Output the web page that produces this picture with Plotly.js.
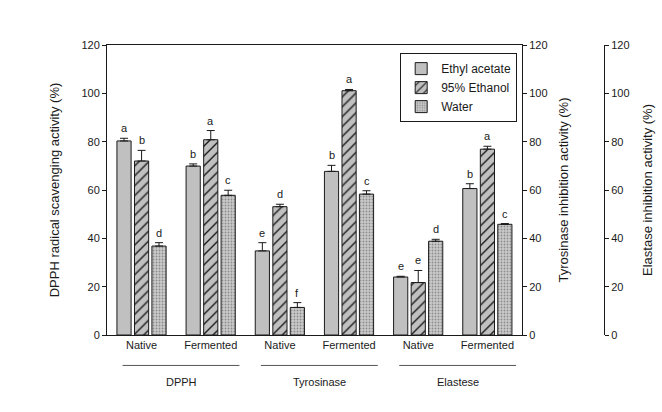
<!DOCTYPE html>
<html>
<head>
<meta charset="utf-8">
<script src="https://cdn.plot.ly/plotly-3.0.1.min.js"></script>
<style>
  html, body { margin: 0; padding: 0; background: #fff; }
  #chart { width: 662px; height: 412px; }
</style>
</head>
<body>
<div id="chart"></div>
<script>
// six sample groups, three solvents
const groupLabels = ["Native", "Fermented", "Native", "Fermented", "Native", "Fermented"];
const assayLabels = ["DPPH", "Tyrosinase", "Elastese"];
const solvents = ["Ethyl acetate", "95% Ethanol", "Water"];

const ethylAcetate = [80.3, 69.9, 34.8, 67.7, 24.0, 60.6];
const ethylAcetateErr = [1.1, 0.9, 3.4, 2.5, 0.3, 2.0];
const ethanol = [72.0, 80.8, 53.1, 101.1, 21.7, 76.9];
const ethanolErr = [4.4, 3.8, 1.0, 0.5, 5.0, 1.2];
const water = [36.8, 57.8, 11.4, 58.3, 38.8, 45.8];
const waterErr = [1.4, 2.1, 2.0, 1.4, 0.8, 0.3];

const ethylAcetateLetters = ["a", "b", "e", "b", "e", "b"];
const ethanolLetters = ["b", "a", "d", "a", "e", "a"];
const waterLetters = ["d", "c", "f", "c", "d", "c"];

const font = "Liberation Sans, Arial, sans-serif";
const ink = "#1a1a1a";
const gray = "#c0c0c0";
const barW = 0.205;
const centers = [-0.254, 0, 0.252];

const xs = groupLabels.map((_, i) => i);

function barTrace(name, y, err, pattern, k) {
  return {
    type: "bar",
    name: name,
    x: xs,
    y: y,
    width: barW,
    offset: centers[k] - barW / 2,
    marker: { color: gray, line: { color: ink, width: 1 }, pattern: pattern },
    error_y: { type: "data", symmetric: false, array: err, arrayminus: err.map(() => 0), color: ink, thickness: 1, width: 4 },
    hoverinfo: "skip",
  };
}

const traces = [
  barTrace(solvents[0], ethylAcetate, ethylAcetateErr, { shape: "" }, 0),
  barTrace(solvents[1], ethanol, ethanolErr, { shape: "/", bgcolor: gray, fgcolor: ink, size: 7, solidity: 0.2, fillmode: "replace" }, 1),
  barTrace(solvents[2], water, waterErr, { shape: ".", bgcolor: "#cbcbcb", fgcolor: "#8c8c8c", size: 3, solidity: 0.3, fillmode: "replace" }, 2),
];

const annotations = [];
[[ethylAcetate, ethylAcetateErr, ethylAcetateLetters], [ethanol, ethanolErr, ethanolLetters], [water, waterErr, waterLetters]].forEach(([vals, errs, letters], k) => {
  vals.forEach((v, i) => {
    annotations.push({
      x: i + centers[k], y: v + errs[i], xref: "x", yref: "y",
      text: letters[i], showarrow: false, yanchor: "bottom", yshift: 2,
      font: { family: font, size: 11, color: ink },
    });
  });
});

// assay labels under pairs of groups
const shapes = [];
assayLabels.forEach((lab, g) => {
  const mid = 2 * g + 0.57;
  shapes.push({ type: "line", xref: "x", yref: "paper", x0: mid - 0.845, x1: mid + 0.845, y0: -0.105, y1: -0.105, line: { color: "#555", width: 1 } });
  annotations.push({ x: mid, y: -0.162, xref: "x", yref: "paper", yanchor: "middle", text: lab, showarrow: false, font: { family: font, size: 11, color: ink } });
});

const axisCommon = {
  range: [0, 120], tickvals: [0, 20, 40, 60, 80, 100, 120], ticks: "outside", ticklen: 4,
  showline: true, linecolor: ink, linewidth: 1, tickcolor: ink, showgrid: false, zeroline: false,
  tickfont: { family: font, size: 11, color: ink }, fixedrange: true,
};

const layout = {
  width: 662, height: 412,
  margin: { l: 107, r: 20, t: 45, b: 77 },
  paper_bgcolor: "#fff", plot_bgcolor: "#fff",
  font: { family: font, color: ink },
  showlegend: true,
  legend: {
    x: 0.548, y: 0.972, xanchor: "left", yanchor: "top",
    bordercolor: ink, borderwidth: 1, bgcolor: "#fff",
    font: { family: font, size: 12, color: ink }, tracegroupgap: 0,
  },
  xaxis: {
    domain: [0, 0.7757], range: [-0.5, 5.5], tickvals: xs, ticktext: groupLabels,
    showline: true, mirror: true, linecolor: ink, linewidth: 1, ticks: "", showgrid: false, zeroline: false,
    tickfont: { family: font, size: 11, color: ink }, fixedrange: true,
  },
  yaxis: Object.assign({}, axisCommon, {
    title: { text: "DPPH radical scavenging activity (%)", font: { family: font, size: 13, color: ink }, standoff: 18 },
  }),
  yaxis2: Object.assign({}, axisCommon, {
    overlaying: "y", side: "right", anchor: "x",
    title: { text: "Tyrosinase inhibition activity (%)", font: { family: font, size: 13, color: ink }, standoff: 12 },
  }),
  yaxis3: Object.assign({}, axisCommon, {
    overlaying: "y", side: "right", anchor: "free", position: 0.929,
    title: { text: "Elastase inhibition activity (%)", font: { family: font, size: 13, color: ink }, standoff: 14 },
  }),
  annotations: annotations,
  shapes: shapes,
};

// invisible traces so the extra right axes get drawn
traces.push({ type: "scatter", x: [0], y: [0], yaxis: "y2", mode: "none", showlegend: false, hoverinfo: "skip" });
traces.push({ type: "scatter", x: [0], y: [0], yaxis: "y3", mode: "none", showlegend: false, hoverinfo: "skip" });

Plotly.newPlot("chart", traces, layout, { displayModeBar: false, staticPlot: true });
</script>
</body>
</html>
